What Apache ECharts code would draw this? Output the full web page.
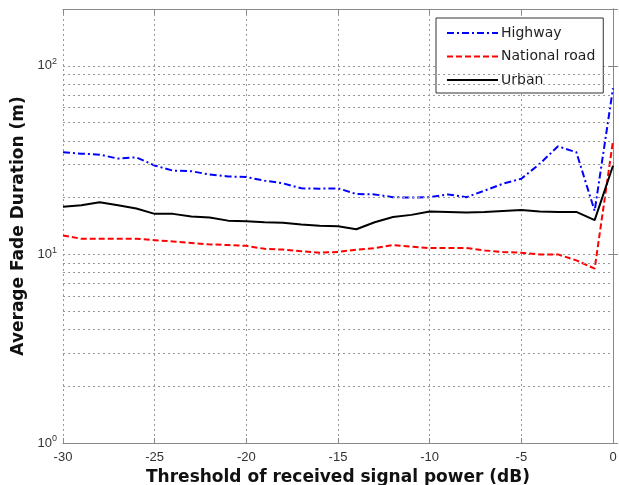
<!DOCTYPE html>
<html lang="en">
  <head>
    <meta charset="UTF-8" />
    <title>Average Fade Duration</title>
    <script src="https://cdn.jsdelivr.net/npm/echarts@6/dist/echarts.min.js"></script>
    <style>
      * { margin: 0; padding: 0; }
      body { background: #fff; }
    </style>
  </head>
  <body>
    <div id="main" style="width: 619px; height: 485px"></div>
    <script>
      // threshold (dB), 1 dB step
      var thresholds = [-30, -29, -28, -27, -26, -25, -24, -23, -22, -21, -20, -19, -18, -17, -16, -15,
        -14, -13, -12, -11, -10, -9, -8, -7, -6, -5, -4, -3, -2, -1, 0];
      var highway = [34.8, 34.2, 33.8, 32.2, 32.7, 29.6, 27.8, 27.6, 26.5, 25.9, 25.7, 24.6, 23.8, 22.4, 22.3, 22.4,
        20.9, 20.8, 20.1, 20.0, 20.1, 20.8, 20.1, 21.8, 23.7, 25.2, 30.2, 37.4, 34.8, 17.0, 76];
      var nationalRoad = [12.6, 12.1, 12.1, 12.1, 12.1, 11.9, 11.7, 11.5, 11.3, 11.2, 11.1, 10.7, 10.6, 10.4, 10.2, 10.3,
        10.6, 10.8, 11.2, 11.0, 10.8, 10.8, 10.8, 10.5, 10.3, 10.2, 10.0, 10.0, 9.3, 8.4, 40];
      var urban = [17.9, 18.2, 18.9, 18.2, 17.5, 16.4, 16.4, 15.9, 15.7, 15.1, 15.0, 14.8, 14.7, 14.4, 14.2, 14.1,
        13.6, 14.8, 15.8, 16.2, 16.9, 16.8, 16.7, 16.8, 17.0, 17.2, 16.9, 16.8, 16.8, 15.2, 29.5];
      // minor log grid lines (2..9 per decade)
      var minorGrid = [2, 3, 4, 5, 6, 7, 8, 9, 20, 30, 40, 50, 60, 70, 80, 90];

      function pairs(ys) {
        return thresholds.map(function (x, i) { return [x, ys[i]]; });
      }

      var myChart = echarts.init(document.getElementById('main'));
      var font = 'Liberation Sans, Arial, sans-serif';
      var wide = 'DejaVu Sans, sans-serif';
      var dotted = { color: '#999', type: [2, 3], width: 1 };
      var frame = { show: true, lineStyle: { color: '#888', width: 1 } };
      var ticks = { show: true, inside: true, length: 5, lineStyle: { color: '#888' } };

      myChart.setOption({
        animation: false,
        grid: { left: 63, right: 6, top: 9, bottom: 42, containLabel: false, outerBoundsMode: 'none' },
        legend: {
          left: 436, top: 18,
          orient: 'vertical',
          itemWidth: 51, itemHeight: 14, itemGap: 9.5,
          padding: [8, 8, 6, 10],
          borderColor: '#333', borderWidth: 1, backgroundColor: '#fff',
          itemStyle: { opacity: 0 },
          textStyle: { fontFamily: wide, fontSize: 14, color: '#222', padding: [0, 0, 0, -2] },
          data: ['Highway', 'National road', 'Urban']
        },
        xAxis: [
          {
            type: 'value', min: -30, max: 0, interval: 5,
            name: 'Threshold of received signal power (dB)',
            nameLocation: 'middle', nameGap: 25,
            nameTextStyle: { fontFamily: wide, fontSize: 17, fontWeight: 'bold', color: '#111' },
            axisLine: frame,
            axisTick: ticks,
            axisLabel: { fontFamily: font, fontSize: 13, color: '#333', margin: 8 },
            splitLine: { show: true, lineStyle: dotted }
          },
          {
            type: 'value', min: -30, max: 0, interval: 5, position: 'top',
            axisLine: frame, axisTick: ticks, axisLabel: { show: false }, splitLine: { show: false }
          }
        ],
        yAxis: [
          {
            type: 'log', logBase: 10, min: 1, max: 200, interval: 1,
            name: 'Average Fade Duration (m)',
            nameLocation: 'middle', nameGap: 36, nameRotate: 90,
            nameTextStyle: { fontFamily: wide, fontSize: 17, fontWeight: 'bold', color: '#111' },
            axisLine: frame,
            axisTick: ticks,
            axisLabel: {
              margin: 6,
              formatter: function (v) {
                var e = Math.round(Math.log10(v));
                if (Math.abs(Math.pow(10, e) - v) > 1e-6) return '';
                return '{b|10}{s|' + e + '}';
              },
              rich: {
                b: { fontFamily: font, fontSize: 13, color: '#333' },
                s: { fontFamily: font, fontSize: 9, color: '#333', verticalAlign: 'bottom', padding: [0, 0, 8, 0] }
              }
            },
            splitLine: { show: true, lineStyle: dotted }
          },
          {
            type: 'log', logBase: 10, min: 1, max: 200, interval: 1, position: 'right',
            axisLine: frame, axisTick: ticks, axisLabel: { show: false }, splitLine: { show: false }
          }
        ],
        series: [
          {
            name: 'Highway', type: 'line', symbol: 'none',
            lineStyle: { color: '#0000ff', width: 2, type: [7, 3, 2, 3] },
            itemStyle: { color: '#0000ff' },
            data: pairs(highway),
            markLine: {
              silent: true, symbol: 'none', label: { show: false },
              lineStyle: dotted,
              data: minorGrid.map(function (v) { return { yAxis: v }; })
            },
            z: 3
          },
          {
            name: 'National road', type: 'line', symbol: 'none',
            lineStyle: { color: '#ff0000', width: 2, type: [6, 3] },
            itemStyle: { color: '#ff0000' },
            data: pairs(nationalRoad), z: 3
          },
          {
            name: 'Urban', type: 'line', symbol: 'none',
            lineStyle: { color: '#000', width: 2 },
            itemStyle: { color: '#000' },
            data: pairs(urban), z: 3
          }
        ]
      });
    </script>
  </body>
</html>
